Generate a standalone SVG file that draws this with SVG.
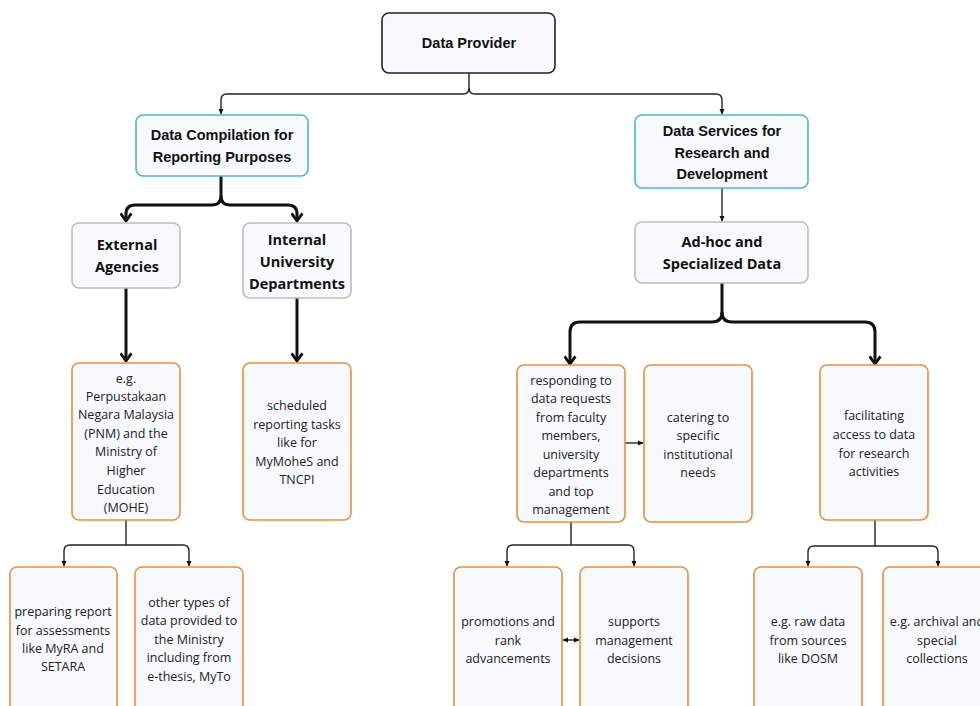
<svg xmlns="http://www.w3.org/2000/svg" width="980" height="706" viewBox="0 0 980 706">
<defs>
<style>
.bx{fill:#f8f9fc;stroke-width:1.6}
.dk{stroke:#222}
.tl{stroke:#4eb6cc}
.gy{stroke:#bcbcbc}
.or{stroke:#ee8d3c}
.h1{font-family:"Liberation Sans",Arial,sans-serif;font-weight:bold;font-size:14.5px;fill:#111;text-anchor:middle}
.h2{font-family:"Open Sans","Liberation Sans",sans-serif;font-weight:bold;font-size:14.5px;fill:#111;text-anchor:middle}
.b{font-family:"Open Sans","Liberation Sans",sans-serif;font-size:12.5px;fill:#222;text-anchor:middle}
.thin{fill:none;stroke:#222;stroke-width:1.4}
.thick{fill:none;stroke:#111;stroke-width:3}
</style>
<marker id="ah" viewBox="0 0 10 10" refX="9" refY="5" markerWidth="6" markerHeight="6" orient="auto-start-reverse" markerUnits="userSpaceOnUse"><path d="M0,0.5 L10,5 L0,9.5 z" fill="#111"/></marker>
<marker id="ch" viewBox="0 0 12 12" refX="10" refY="6" markerWidth="13" markerHeight="13" orient="auto" markerUnits="userSpaceOnUse"><path d="M3,1 L10,6 L3,11" fill="none" stroke="#111" stroke-width="2.6" stroke-linejoin="round"/></marker>
</defs>
<rect width="980" height="706" fill="#ffffff"/>

<g id="connectors">
<path class="thin" d="M469,73 V88 Q469,94 463,94 H227 Q221,94 221,100 V114" marker-end="url(#ah)"/>
<path class="thin" d="M469,88 Q469,94 475,94 H716 Q722,94 722,100 V114" marker-end="url(#ah)"/>
<path class="thin" d="M722,188 V221" marker-end="url(#ah)"/>
<path class="thick" d="M221,176 V196 Q221,205 212,205 H135 Q126,205 126,214 V221" marker-end="url(#ch)"/>
<path class="thick" d="M221,196 Q221,205 230,205 H288 Q297,205 297,214 V221" marker-end="url(#ch)"/>
<path class="thick" d="M126,288 V361" marker-end="url(#ch)"/>
<path class="thick" d="M297,298 V361" marker-end="url(#ch)"/>
<path class="thick" d="M722,283 V312 Q722,322 712,322 H580 Q570,322 570,332 V364" marker-end="url(#ch)"/>
<path class="thick" d="M722,312 Q722,322 732,322 H865 Q875,322 875,332 V364" marker-end="url(#ch)"/>
<path class="thin" d="M625,443 H643" marker-end="url(#ah)"/>
<path class="thin" d="M126,520 V545 H70 Q64,545 64,551 V566" marker-end="url(#ah)"/>
<path class="thin" d="M126,545 H183 Q189,545 189,551 V566" marker-end="url(#ah)"/>
<path class="thin" d="M571,522 V545 H513 Q507,545 507,551 V566" marker-end="url(#ah)"/>
<path class="thin" d="M571,545 H628 Q634,545 634,551 V566" marker-end="url(#ah)"/>
<path class="thin" d="M563,640 H579" marker-start="url(#ah)" marker-end="url(#ah)"/>
<path class="thin" d="M875,520 V546 H814 Q808,546 808,552 V566" marker-end="url(#ah)"/>
<path class="thin" d="M875,546 H932 Q938,546 938,552 V566" marker-end="url(#ah)"/>
</g>

<g id="data-provider">
<rect class="bx dk" x="382" y="13" width="173" height="60" rx="7"/>
<text class="h1" x="469" y="48">Data Provider</text>
</g>

<g id="data-compilation">
<rect class="bx tl" x="136" y="115" width="172" height="61" rx="7"/>
<text class="h1" x="222" y="140">Data Compilation for</text>
<text class="h1" x="222" y="162">Reporting Purposes</text>
</g>

<g id="data-services">
<rect class="bx tl" x="635" y="115" width="173" height="73" rx="7"/>
<text class="h1" x="722" y="136">Data Services for</text>
<text class="h1" x="722" y="158">Research and</text>
<text class="h1" x="722" y="179">Development</text>
</g>

<g id="external-agencies">
<rect class="bx gy" x="72" y="223" width="108" height="65" rx="7"/>
<text class="h2" x="127" y="250">External</text>
<text class="h2" x="127" y="272">Agencies</text>
</g>

<g id="internal-departments">
<rect class="bx gy" x="243" y="223" width="108" height="75" rx="7"/>
<text class="h2" x="297" y="245">Internal</text>
<text class="h2" x="297" y="267">University</text>
<text class="h2" x="297" y="289">Departments</text>
</g>

<g id="adhoc">
<rect class="bx gy" x="635" y="222" width="173" height="61" rx="7"/>
<text class="h2" x="722" y="247">Ad-hoc and</text>
<text class="h2" x="722" y="269">Specialized Data</text>
</g>

<g id="eg-pnm">
<rect class="bx or" x="72" y="363" width="108" height="157" rx="7"/>
<text class="b" x="126" y="383">e.g.</text>
<text class="b" x="126" y="401">Perpustakaan</text>
<text class="b" x="126" y="419">Negara Malaysia</text>
<text class="b" x="126" y="438">(PNM) and the</text>
<text class="b" x="126" y="456">Ministry of</text>
<text class="b" x="126" y="475">Higher</text>
<text class="b" x="126" y="494">Education</text>
<text class="b" x="126" y="512">(MOHE)</text>
</g>

<g id="scheduled">
<rect class="bx or" x="243" y="363" width="108" height="157" rx="7"/>
<text class="b" x="297" y="410">scheduled</text>
<text class="b" x="297" y="429">reporting tasks</text>
<text class="b" x="297" y="447">like for</text>
<text class="b" x="297" y="466">MyMoheS and</text>
<text class="b" x="297" y="484">TNCPI</text>
</g>

<g id="responding">
<rect class="bx or" x="517" y="365" width="108" height="157" rx="7"/>
<text class="b" x="571" y="385">responding to</text>
<text class="b" x="571" y="403">data requests</text>
<text class="b" x="571" y="422">from faculty</text>
<text class="b" x="571" y="440">members,</text>
<text class="b" x="571" y="459">university</text>
<text class="b" x="571" y="477">departments</text>
<text class="b" x="571" y="496">and top</text>
<text class="b" x="571" y="514">management</text>
</g>

<g id="catering">
<rect class="bx or" x="644" y="365" width="108" height="157" rx="7"/>
<text class="b" x="698" y="422">catering to</text>
<text class="b" x="698" y="440">specific</text>
<text class="b" x="698" y="459">institutional</text>
<text class="b" x="698" y="477">needs</text>
</g>

<g id="facilitating">
<rect class="bx or" x="820" y="365" width="108" height="155" rx="7"/>
<text class="b" x="874" y="420">facilitating</text>
<text class="b" x="874" y="439">access to data</text>
<text class="b" x="874" y="458">for research</text>
<text class="b" x="874" y="476">activities</text>
</g>

<g id="preparing">
<rect class="bx or" x="10" y="567" width="107" height="150" rx="7"/>
<text class="b" x="63" y="616">preparing report</text>
<text class="b" x="63" y="635">for assessments</text>
<text class="b" x="63" y="653">like MyRA and</text>
<text class="b" x="63" y="671">SETARA</text>
</g>

<g id="other-types">
<rect class="bx or" x="135" y="567" width="108" height="150" rx="7"/>
<text class="b" x="189" y="607">other types of</text>
<text class="b" x="189" y="625">data provided to</text>
<text class="b" x="189" y="644">the Ministry</text>
<text class="b" x="189" y="662">including from</text>
<text class="b" x="189" y="681">e-thesis, MyTo</text>
</g>

<g id="promotions">
<rect class="bx or" x="454" y="567" width="108" height="150" rx="7"/>
<text class="b" x="508" y="626">promotions and</text>
<text class="b" x="508" y="645">rank</text>
<text class="b" x="508" y="663">advancements</text>
</g>

<g id="supports">
<rect class="bx or" x="580" y="567" width="108" height="150" rx="7"/>
<text class="b" x="634" y="626">supports</text>
<text class="b" x="634" y="645">management</text>
<text class="b" x="634" y="663">decisions</text>
</g>

<g id="raw-data">
<rect class="bx or" x="754" y="567" width="108" height="150" rx="7"/>
<text class="b" x="808" y="626">e.g. raw data</text>
<text class="b" x="808" y="645">from sources</text>
<text class="b" x="808" y="663">like DOSM</text>
</g>

<g id="archival">
<rect class="bx or" x="883" y="567" width="108" height="150" rx="7"/>
<text class="b" x="937" y="626">e.g. archival and</text>
<text class="b" x="937" y="645">special</text>
<text class="b" x="937" y="663">collections</text>
</g>
</svg>
